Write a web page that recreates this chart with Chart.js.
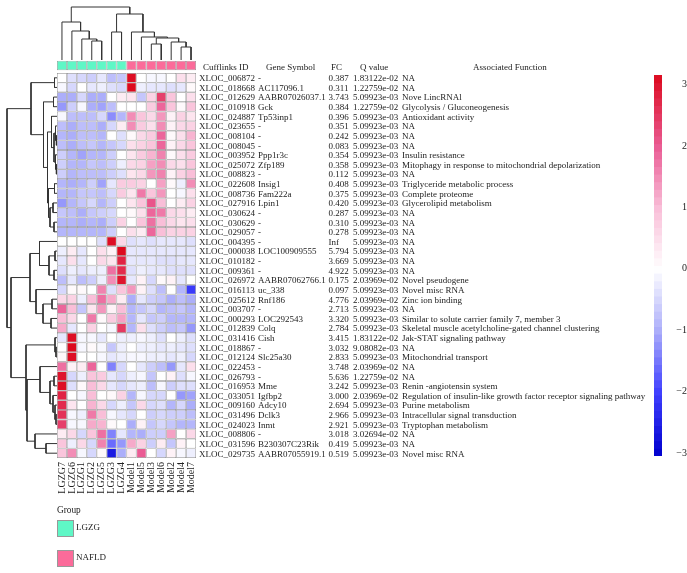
<!DOCTYPE html>
<html>
<head>
<meta charset="utf-8">
<title>Heatmap</title>
<script src="https://cdn.jsdelivr.net/npm/chart.js@4"></script>
<style>
  body { margin: 0; background: #fff; width: 687px; height: 573px; overflow: hidden; position: relative; font-family: "Liberation Serif", serif; color: #222; }
  canvas { position: absolute; }
  .group_title { position: absolute; left: 57px; top: 505px; font-size: 9.3px; }
  .swatch { position: absolute; left: 57px; width: 15px; height: 15px; border: 1px solid #999; }
  .swatch_label { position: absolute; left: 76px; font-size: 9px; }
</style>
</head>
<body>
<canvas id="main_chart" width="687" height="573" style="left:0;top:0"></canvas>
<canvas id="top_tree" width="139" height="60" style="left:57px;top:0"></canvas>
<canvas id="left_tree" width="52" height="385" style="left:5px;top:73px"></canvas>
<canvas id="color_bar" width="33" height="387" style="left:654px;top:75px"></canvas>
<div class="group_title">Group</div>
<div class="swatch" style="top:520px;background:#5ff7c6"></div>
<div class="swatch_label" style="top:522px">LGZG</div>
<div class="swatch" style="top:550px;background:#fb6b9a"></div>
<div class="swatch_label" style="top:552px">NAFLD</div>

<script>
const samples = ['LGZG7','LGZG6','LGZG1','LGZG2','LGZG5','LGZG3','LGZG4','Model1','Model5','Model3','Model6','Model2','Model4','Model7'];
const sampleGroups = ['LGZG','LGZG','LGZG','LGZG','LGZG','LGZG','LGZG','NAFLD','NAFLD','NAFLD','NAFLD','NAFLD','NAFLD','NAFLD'];

const cufflinksIds = ['XLOC_006872','XLOC_018668','XLOC_012629','XLOC_010918','XLOC_024887','XLOC_023655','XLOC_008104','XLOC_008045','XLOC_003952','XLOC_025072','XLOC_008823','XLOC_022608','XLOC_008736','XLOC_027916','XLOC_030624','XLOC_030629','XLOC_029057','XLOC_004395','XLOC_000038','XLOC_010182','XLOC_009361','XLOC_026972','XLOC_016113','XLOC_025612','XLOC_003707','XLOC_000293','XLOC_012839','XLOC_031416','XLOC_018867','XLOC_012124','XLOC_022453','XLOC_026793','XLOC_016953','XLOC_033051','XLOC_009160','XLOC_031496','XLOC_024023','XLOC_008806','XLOC_031596','XLOC_029735'];
const geneSymbols = ['-','AC117096.1','AABR07026037.1','Gck','Tp53inp1','-','-','-','Ppp1r3c','Zfp189','-','Insig1','Fam222a','Lpin1','-','-','-','-','LOC100909555','-','-','AABR07062766.1','uc_338','Rnf186','-','LOC292543','Colq','Cish','-','Slc25a30','-','-','Mme','Igfbp2','Adcy10','Dclk3','Inmt','-','B230307C23Rik','AABR07055919.1'];
const foldChanges = ['0.387','0.311','3.743','0.384','0.396','0.351','0.242','0.083','0.354','0.358','0.112','0.408','0.375','0.420','0.287','0.310','0.278','Inf','5.794','3.669','4.922','0.175','0.097','4.776','2.713','3.320','2.784','3.415','3.032','2.833','3.748','5.636','3.242','3.000','2.694','2.966','2.921','3.018','0.419','0.519'];
const qValues = ['1.83122e-02','1.22759e-02','5.09923e-03','1.22759e-02','5.09923e-03','5.09923e-03','5.09923e-03','5.09923e-03','5.09923e-03','5.09923e-03','5.09923e-03','5.09923e-03','5.09923e-03','5.09923e-03','5.09923e-03','5.09923e-03','5.09923e-03','5.09923e-03','5.09923e-03','5.09923e-03','5.09923e-03','2.03969e-02','5.09923e-03','2.03969e-02','5.09923e-03','5.09923e-03','5.09923e-03','1.83122e-02','9.08082e-03','5.09923e-03','2.03969e-02','1.22759e-02','5.09923e-03','2.03969e-02','5.09923e-03','5.09923e-03','5.09923e-03','3.02694e-02','5.09923e-03','5.09923e-03'];
const functions = ['NA','NA','Nove LincRNAl','Glycolysis / Gluconeogenesis','Antioxidant activity','NA','NA','NA','Insulin resistance','Mitophagy in response to mitochondrial depolarization','NA','Triglyceride metabolic process','Complete proteome','Glycerolipid metabolism','NA','NA','NA','NA','NA','NA','NA','Novel pseudogene','Novel misc RNA','Zinc ion binding','NA','Similar to solute carrier family 7, member 3','Skeletal muscle acetylcholine-gated channel clustering','Jak-STAT signaling pathway','NA','Mitochondrial transport','NA','NA','Renin -angiotensin system','Regulation of insulin-like growth factor receptor signaling pathway','Purine metabolism','Intracellular signal transduction','Tryptophan metabolism','NA','NA','Novel misc RNA'];

// one row per gene, same order as samples
const heatValues = [
  [0,-.4,-.5,-.6,-.3,-.8,-.7,3.1,0,-.1,-.1,0,.5,.3],
  [-.1,-.5,0,-.3,-.2,-.4,-.5,3.2,-.2,-.3,-.3,-.4,-.3,.1],
  [-1,-1,-.5,-1,-1,0,.3,.4,-.7,.7,2.4,.9,0,.5],
  [-1.2,-.6,-.1,-1,-1.1,-.8,0,0,0,.8,1.9,.9,.1,.9],
  [-.1,-.8,-.8,-.8,-.5,-1.3,-.9,1.5,.9,.6,1.4,.2,.7,.4],
  [-.8,-1,-.8,-.8,-1,-.5,.3,1.5,.8,.5,1.5,.2,.6,.7],
  [-.9,-1,-.8,-.8,-.9,0,-.4,.1,.6,.8,1.9,.1,.5,1.1],
  [-.8,-1,-.8,-.7,-.9,-.7,-.5,.5,.7,.9,1.9,.2,.6,.9],
  [-.6,-.9,-1.1,-.9,-.9,-.6,0,.4,.8,1.1,1.6,.1,.5,.8],
  [-.6,-.9,-.9,-.7,-.8,-.6,-.2,.6,.7,1.3,1.5,.6,.5,.9],
  [-.6,-.9,-.8,-.8,-.8,-.6,-.4,.4,.6,1.4,1.6,.2,.7,1],
  [-.9,-1,-.9,-.6,-1.1,-.3,.8,.8,.7,0,1.3,.1,-.2,1.5],
  [-.9,-.9,-.7,-.7,-.8,-.5,.8,.4,1.7,.9,1.4,0,-.1,.5],
  [-1.2,-.9,-.7,-.5,-.9,-.6,0,.4,.9,2.1,1,0,.3,.7],
  [-.7,-.8,-1,-.7,-.6,-.5,0,.1,.5,1.9,1.7,.6,.5,.3],
  [-.9,-.9,-1,-.9,-1,-.6,.7,0,.9,1.8,1,.6,.4,.5],
  [-.9,-.9,-.9,-.9,-.9,-.6,0,.5,.3,1.9,1,.7,.7,.7],
  [0,0,0,0,-.4,3.1,.6,-.4,-.3,-.4,-.3,-.3,-.3,-.4],
  [-.2,.3,-.3,0,.5,.2,3.2,-.3,-.3,-.3,-.3,-.3,-.3,-.3],
  [-.3,.5,-.3,0,.6,.4,2.8,-.3,-.3,-.3,-.4,-.4,-.3,-.3],
  [-.4,-.2,-.3,-.2,-.2,1.8,2.7,-.4,-.2,-.3,-.3,-.4,-.4,-.4],
  [-.8,-.3,-.8,-.6,-.2,1.5,3,-.3,.2,-.5,.1,.2,-.3,0],
  [-.5,.1,.1,0,1.6,-.4,.9,1.4,.2,-.4,-.8,0,-.9,-2.1],
  [.6,.7,-.2,1,1.8,1.2,.3,-1,-.3,-.6,-.7,-1,-.8,-1],
  [1.9,1,-.7,.4,1.4,.2,1,-.9,-.7,-.5,-.9,-.8,-.7,-.9],
  [1,.6,0,1.7,.1,.8,1.3,-.9,-.3,-.7,-.6,-.9,-.9,-.9],
  [1.2,-.3,0,.7,0,-.1,2.5,-.9,.5,-.4,-.6,-.8,-.7,-1.2],
  [-.3,3.1,-.1,-.1,-.3,0,-.2,-.2,-.1,-.2,-.4,0,-.2,-.4],
  [0,3.2,-.1,.1,-.1,-.7,-.2,0,-.2,-.2,-.3,-.2,-.3,-.4],
  [.1,3.1,0,0,-.1,-.3,-.2,-.1,-.1,-.2,-.2,-.3,-.2,-.5],
  [1.8,.2,.3,1.9,0,-1.4,-.5,0,-.3,-.6,-.8,-1.2,-.3,.5],
  [3,-.5,-.2,.9,.8,-.3,-.5,-.2,-.1,-.7,0,.2,-.4,-.1],
  [3.1,-.4,.1,1,.6,-.3,-.5,-.3,-.2,-.8,-.1,-.6,-.4,-.4],
  [2.8,0,-.1,1,0,.1,.7,-.9,-.1,-.5,-.5,0,-1.2,-1.1],
  [2.7,.4,0,1.1,.6,-.5,-.2,-.7,.6,-.5,-.4,-.9,-.5,-1],
  [2.6,-.1,-.2,1.7,1,-.1,-.3,-.5,0,-.6,-.5,-.6,-.6,-.8],
  [2.4,-.1,-.1,1.2,1.1,.1,0,-1,.2,-.7,-.5,-.7,-.9,-.9],
  [.3,.6,-.5,.9,1.8,-1.4,-.3,-.9,-1,-.6,-.6,1.3,0,.6],
  [.9,-.2,.6,-.5,1.6,-1.6,-1.2,1.2,.7,-.6,.3,-.7,.2,0],
  [.9,1.5,-.1,-.5,.1,-2.6,-1,.3,2,0,-.5,.2,-.1,-.2]
];

// dendrograms: [left, right, height], a number is a leaf position
const sampleTree = [
  [0,[1,[2,[3,4,19],21],29],38],
  [[5,6,28],[7,[8,[[9,10,16],[11,[12,13,13],18],22],23],28],46],
  53
];
const geneTree = [
  [[0,1,2.5],[[2,3,3.5],[[4,[[5,[6,7,.6],1.5],[8,[9,10,.6],1.5],3],5.5],[[11,12,2.5],[[13,14,4],[15,16,3],7],8.5],9.5],13.5],26],
  [
    [[17,[[18,19,2],[20,21,3],8],17.5],[22,[[23,24,5],[25,26,6],14],21],27],
    [[27,[28,29,1],2],[[30,[[31,32,3],[33,[34,[35,36,1],2],4],7],17],[37,[38,39,11],22],30],31],
    46
  ],
  50
];

const colorStops = [-3.05,-2,-1,0,1,2,3.16];
const colorRgb = [[0,0,205],[64,64,255],[172,174,250],[255,255,255],[249,190,216],[234,92,148],[220,10,30]];

function value_color(v)
{
  let i = 0;
  while (i < colorStops.length - 2 && v > colorStops[i + 1]) i++;
  let t = (v - colorStops[i]) / (colorStops[i + 1] - colorStops[i]);
  t = Math.max(0, Math.min(1, t));
  const c = colorRgb[i].map((a, k) => Math.round(a + (colorRgb[i + 1][k] - a) * t));
  return 'rgb(' + c.join(',') + ')';
}

const groupColors = { LGZG: '#5ff7c6', NAFLD: '#fb6b9a' };
const cellBorder = '#8f8f8f';
const serif = '"Liberation Serif", serif';

// table to the right of the heatmap, rows follow the y scale
const tablePlugin = {
  id: 'gene_table',
  afterDraw(chart) {
    const ctx = chart.ctx;
    const y = chart.scales.y;
    ctx.save();
    ctx.font = '9px ' + serif;
    ctx.fillStyle = '#222';
    ctx.textBaseline = 'middle';
    const columns = [[199, cufflinksIds], [258, geneSymbols], [328.5, foldChanges], [353, qValues], [402, functions]];
    columns.forEach(([x, texts]) => {
      texts.forEach((t, i) => ctx.fillText(t, x, y.getPixelForValue(i + 0.5) + 1));
    });
    [['Cufflinks ID', 203], ['Gene Symbol', 266], ['FC', 331], ['Q value', 360], ['Associated Function', 473]].forEach(([t, x]) => {
      ctx.fillText(t, x, 67.5);
    });
    ctx.restore();
  }
};

const cellData = [];
heatValues.forEach((row, r) => {
  row.forEach((v, c) => cellData.push({ x: samples[c], y: [r, r + 1], v: v }));
});
const stripData = samples.map((s, c) => ({ x: s, y: [-1.28, -0.28], group: sampleGroups[c] }));

new Chart(document.getElementById('main_chart'), {
  type: 'bar',
  plugins: [tablePlugin],
  data: {
    labels: samples,
    datasets: [
      {
        data: cellData,
        grouped: false,
        barPercentage: 1,
        categoryPercentage: 1,
        borderSkipped: false,
        borderWidth: 0.7,
        inflateAmount: 0,
        borderColor: cellBorder,
        backgroundColor: (c) => value_color(c.raw.v)
      },
      {
        data: stripData,
        grouped: false,
        barPercentage: 1,
        categoryPercentage: 1,
        borderSkipped: false,
        borderWidth: 0.7,
        inflateAmount: 0,
        borderColor: cellBorder,
        backgroundColor: (c) => groupColors[c.raw.group]
      }
    ]
  },
  options: {
    responsive: false,
    animation: false,
    layout: { padding: { left: 57, right: 491, top: 60.7, bottom: 0 } },
    plugins: { legend: { display: false }, tooltip: { enabled: false } },
    scales: {
      x: {
        type: 'category',
        grid: { display: false, drawTicks: false },
        border: { display: false },
        afterFit: (s) => { s.height = 115; },
        ticks: { autoSkip: false, minRotation: 90, maxRotation: 90, padding: 4, color: '#222', font: { family: serif, size: 10 } }
      },
      y: { display: false, reverse: true, min: -1.28, max: 40 }
    }
  }
});

// turns a tree into one line dataset per merge, returns the node position
function tree_lines(node, lines, toPoint)
{
  if (typeof node === 'number') return { pos: node + 0.5, h: 0 };
  const a = tree_lines(node[0], lines, toPoint);
  const b = tree_lines(node[1], lines, toPoint);
  const h = node[2];
  lines.push({
    type: 'scatter',
    showLine: true,
    clip: false,
    pointRadius: 0,
    borderWidth: 1,
    borderColor: '#333',
    data: [toPoint(a.pos, a.h), toPoint(a.pos, h), toPoint(b.pos, h), toPoint(b.pos, b.h)]
  });
  return { pos: (a.pos + b.pos) / 2, h: h };
}

function draw_tree(id, tree, toPoint, xScale, yScale)
{
  const lines = [];
  tree_lines(tree, lines, toPoint);
  new Chart(document.getElementById(id), {
    type: 'scatter',
    data: { datasets: lines },
    options: {
      responsive: false,
      animation: false,
      plugins: { legend: { display: false }, tooltip: { enabled: false } },
      scales: {
        x: Object.assign({ type: 'linear', display: false }, xScale),
        y: Object.assign({ type: 'linear', display: false }, yScale)
      }
    }
  });
}

draw_tree('top_tree', sampleTree, (pos, h) => ({ x: pos, y: h }), { min: 0, max: 14 }, { min: 0, max: 60 });
draw_tree('left_tree', geneTree, (pos, h) => ({ x: h, y: pos }), { min: 0, max: 52, reverse: true }, { min: 0, max: 40, reverse: true });

// color key
const keyTicks = [3, 2, 1, 0, -1, -2, -3];
const keyMin = -3.05;
const keyMax = 3.16;
const keySteps = 50;
const keyData = [];
for (let i = 0; i < keySteps; i++) {
  const lo = keyMin + (keyMax - keyMin) * i / keySteps;
  const hi = keyMin + (keyMax - keyMin) * (i + 1) / keySteps;
  keyData.push({ x: 'key', y: [lo, hi], v: (lo + hi) / 2 });
}

new Chart(document.getElementById('color_bar'), {
  type: 'bar',
  data: {
    labels: ['key'],
    datasets: [{
      data: keyData,
      barPercentage: 1,
      categoryPercentage: 1,
      borderWidth: 0,
      inflateAmount: 0.5,
      backgroundColor: (c) => value_color(c.raw.v)
    }]
  },
  options: {
    responsive: false,
    animation: false,
    layout: { padding: { bottom: 6 } },
    plugins: { legend: { display: false }, tooltip: { enabled: false } },
    scales: {
      x: { display: false },
      y: {
        position: 'right',
        min: keyMin,
        max: keyMax,
        grid: { display: false, drawTicks: false },
        border: { display: false },
        afterFit: (s) => { s.width = 25; s.paddingTop = 0; s.paddingBottom = 0; },
        afterBuildTicks: (s) => { s.ticks = keyTicks.map((v) => ({ value: v })); },
        ticks: {
          padding: 10,
          crossAlign: 'far',
          color: '#222',
          font: { family: serif, size: 10 },
          callback: (v) => (v < 0 ? '\u2212' + (-v) : '' + v)
        }
      }
    }
  }
});
</script>
</body>
</html>
